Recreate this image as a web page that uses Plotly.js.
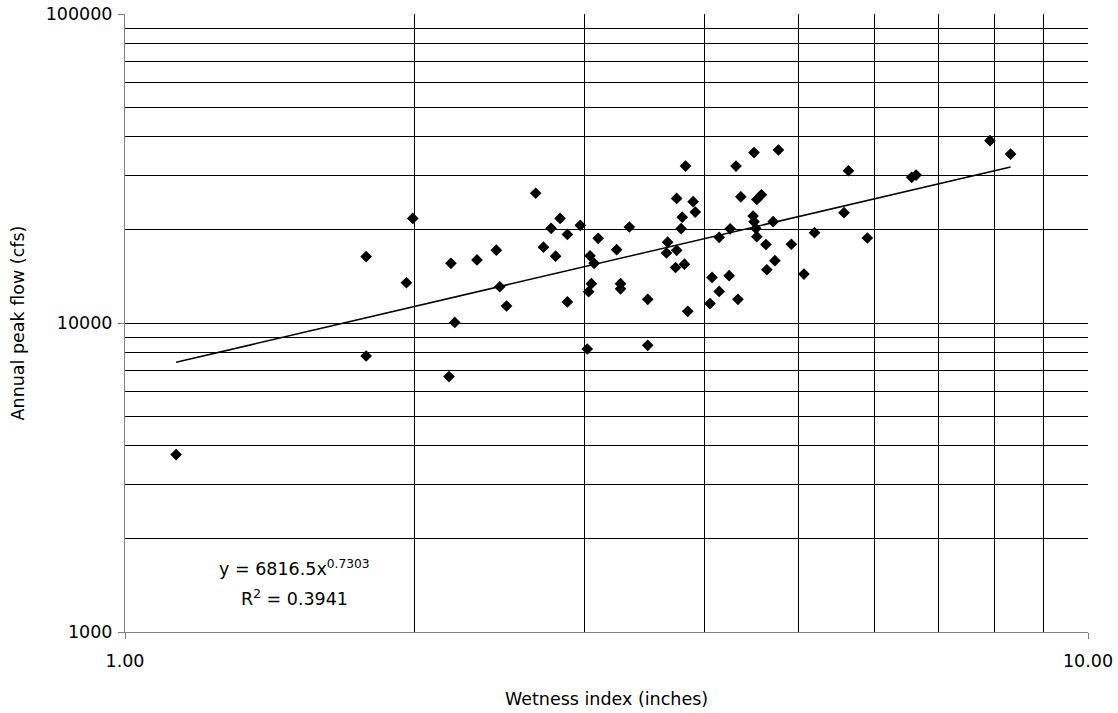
<!DOCTYPE html>
<html>
<head>
<meta charset="utf-8">
<script src="https://cdn.plot.ly/plotly-3.0.1.min.js"></script>
<style>html,body{margin:0;padding:0;background:#fff;}#chart{width:1118px;height:713px;}</style>
</head>
<body>
<div id="chart"></div>
<script>
// Wetness index (inches)
const wetnessIndex = [1.13, 1.78, 1.78, 1.96, 1.99, 2.18, 2.32, 2.43, 2.45, 2.49, 2.20, 2.17,
  2.67, 2.72, 2.77, 2.83, 2.80, 2.88, 2.97, 2.88, 3.10, 3.04, 3.07, 3.05, 3.03, 3.02,
  3.24, 3.27, 3.27, 3.34, 3.49, 3.49, 3.66, 3.65, 3.74, 3.73, 3.81, 3.84, 3.74, 3.82,
  3.89, 3.91, 3.79, 3.78, 4.14, 4.25, 4.07, 4.24, 4.14, 4.33, 4.05, 4.31, 4.50, 4.36,
  4.53, 4.58, 4.49, 4.50, 4.52, 4.53, 4.63, 4.64, 4.73, 4.77, 4.71, 4.92, 5.07, 5.20,
  5.58, 5.64, 5.90, 6.56, 6.63, 7.91, 8.31];
// Annual peak flow (cfs)
const peakFlow = [3750, 7820, 16400, 13500, 21800, 15600, 16000, 17200, 13100, 11350, 10040, 6710,
  26300, 17600, 20250, 21800, 16450, 19350, 20700, 11700, 18800, 16500, 15600, 13400, 12630, 8240,
  17270, 13400, 12900, 20450, 11930, 8470, 18260, 16850, 17190, 15120, 15500, 10910, 25300, 32200,
  24700, 22850, 22000, 20200, 18940, 20180, 14040, 14230, 12650, 11930, 11560, 32200, 35600, 25600,
  25100, 26000, 22200, 21270, 20220, 19020, 17950, 14870, 15910, 36300, 21270, 17980, 14400, 19600,
  22750, 31100, 18840, 29600, 30100, 38900, 35200];
// Power trend line endpoints (y = 6816.5x^0.7303)
const trendX = [1.13, 8.31];
const trendY = [7460, 32000];
// Axis ticks
const xTickVals = [1, 10];
const xTickText = ["1.00", "10.00"];
const xMinorVals = [2, 3, 4, 5, 6, 7, 8, 9];
const yTickVals = [1000, 10000, 100000];
const yTickText = ["1000", "10000", "100000"];
const yMinorVals = [2000, 3000, 4000, 5000, 6000, 7000, 8000, 9000,
  20000, 30000, 40000, 50000, 60000, 70000, 80000, 90000];

const fontFam = '"DejaVu Sans", "Liberation Sans", Arial, sans-serif';
const fsz = 17.5;

const traces = [
  {
    x: wetnessIndex, y: peakFlow, type: 'scatter', mode: 'markers',
    marker: {symbol: 'diamond', size: 9, color: '#000'},
    showlegend: false, hoverinfo: 'x+y'
  },
  {
    x: trendX, y: trendY, type: 'scatter', mode: 'lines',
    line: {color: '#000', width: 1.5},
    showlegend: false, hoverinfo: 'skip'
  }
];

const layout = {
  width: 1118, height: 713,
  margin: {l: 125, r: 30, t: 14, b: 81},
  paper_bgcolor: '#fff', plot_bgcolor: '#fff',
  font: {family: fontFam, size: fsz, color: '#000'},
  xaxis: {
    type: 'log', range: [0, 1],
    tickvals: xTickVals, ticktext: xTickText,
    ticks: 'outside', ticklen: 6, tickcolor: '#808080',
    ticklabelstandoff: 7,
    showgrid: true, gridcolor: '#000', gridwidth: 1,
    minor: {tickvals: xMinorVals, showgrid: true, gridcolor: '#000', gridwidth: 1, ticks: ''},
    showline: true, linecolor: '#808080', linewidth: 1,
    zeroline: false,
    tickfont: {family: fontFam, size: fsz, color: '#000'},
    title: {text: 'Wetness index (inches)', font: {family: fontFam, size: fsz, color: '#000'}, standoff: 22}
  },
  yaxis: {
    type: 'log', range: [3, 5],
    tickvals: yTickVals, ticktext: yTickText,
    ticks: 'outside', ticklen: 6, tickcolor: '#808080',
    ticklabelstandoff: 2,
    showgrid: true, gridcolor: '#000', gridwidth: 1,
    minor: {tickvals: yMinorVals, showgrid: true, gridcolor: '#000', gridwidth: 1, ticks: ''},
    showline: true, linecolor: '#808080', linewidth: 1,
    zeroline: false,
    tickfont: {family: fontFam, size: fsz, color: '#000'},
    title: {text: 'Annual peak flow (cfs)', font: {family: fontFam, size: fsz, color: '#000'}, standoff: 16}
  },
  annotations: [
    {
      xref: 'paper', yref: 'paper', x: 0.1755, y: (632 - 568) / 618,
      xanchor: 'center', yanchor: 'middle',
      text: 'y = 6816.5x<sup>0.7303</sup>', showarrow: false,
      font: {family: fontFam, size: fsz, color: '#000'}
    },
    {
      xref: 'paper', yref: 'paper', x: 0.1755, y: (632 - 598) / 618,
      xanchor: 'center', yanchor: 'middle',
      text: 'R<sup>2</sup> = 0.3941', showarrow: false,
      font: {family: fontFam, size: fsz, color: '#000'}
    }
  ]
};

Plotly.newPlot('chart', traces, layout, {displayModeBar: false, staticPlot: true});
</script>
</body>
</html>
